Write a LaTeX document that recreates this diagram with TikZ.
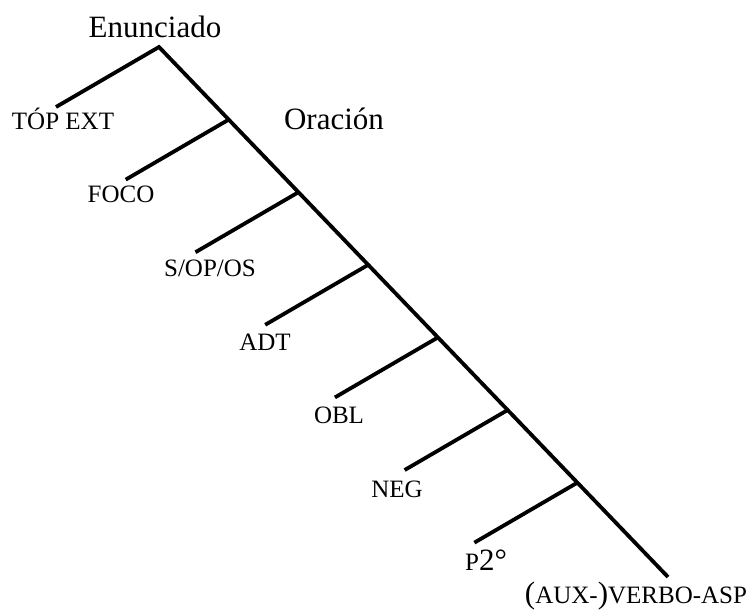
\documentclass[tikz,border=0pt]{standalone}
\usepackage{fontspec}
\setmainfont{Liberation Serif}
\usetikzlibrary{positioning,calc}
\newcommand{\bigsize}{\fontsize{31}{36}\selectfont}
\newcommand{\capsize}{\fontsize{25}{30}\selectfont}
\tikzset{
  limb/.style={draw,line width=3.8pt},
  phrase/.style={font=\bigsize,inner sep=0pt,anchor=base},
  slot/.style={font=\capsize,inner sep=0pt,anchor=base},
}

\begin{document}
\begin{tikzpicture}[x=1pt,y=-1pt]
\useasboundingbox (0,0) rectangle (755,611);

\coordinate (apex) at (159,47);
\coordinate (foot) at (668,577);
\coordinate (top-ext) at ($(apex)+(-103,60)$);

% spine of the clause
\path[limb] (top-ext) -- (apex) -- (foot);

% branching points and their left ends
\foreach \i in {1,...,6} {
  \coordinate (b\i) at ($(apex)!0.137*\i!(foot)$);
  \coordinate (e\i) at ($(b\i)+(-103,60)$);
  \path[limb] (b\i) -- (e\i);
}

\node[phrase] (enun) at (155,37) {Enunciado};
\node[phrase] (orac) at (334,129) {Oración};

\node[slot] (top) at (63,129) {TÓP EXT};
\node[slot] (foco) at (121,202) {FOCO};
\node[slot] (sop) at (210,276) {S/OP/OS};
\node[slot] (adt) at (265,350) {ADT};
\node[slot] (obl) at (339,423) {OBL};
\node[slot] (neg) at (397,497) {NEG};
\node[slot] (ptwo) at (486,570) {P{\bigsize2°}};
\node[slot] (verb) at (636,603) {{\bigsize(}AUX-{\bigsize)}VERBO-ASP};

\end{tikzpicture}
\end{document}
